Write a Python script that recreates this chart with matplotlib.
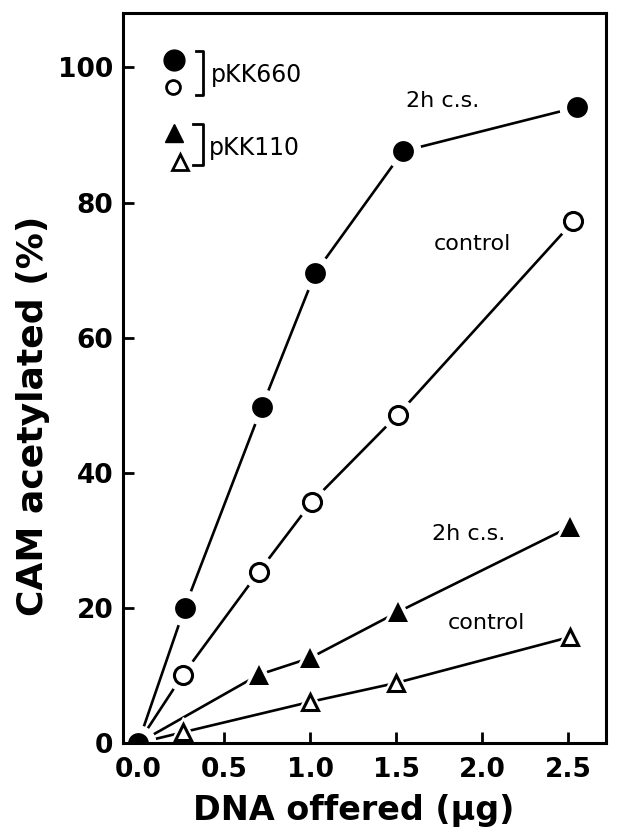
import numpy as np
import matplotlib.pyplot as plt

# values
x_660_cs = [0.0, 0.27, 0.72, 1.03, 1.54, 2.55]
y_660_cs = [0.0, 20.0, 49.8, 69.6, 87.6, 94.1]
x_660_ctl = [0.26, 0.70, 1.01, 1.51, 2.53]
y_660_ctl = [10.1, 25.3, 35.7, 48.6, 77.2]
x_110_cs = [0.70, 1.00, 1.51, 2.51]
y_110_cs = [10.1, 12.6, 19.4, 32.0]
x_110_ctl = [0.26, 1.00, 1.50, 2.51]
y_110_ctl = [1.6, 6.1, 8.9, 15.7]

x_ticks = [0.0, 0.5, 1.0, 1.5, 2.0, 2.5]
y_ticks = [0, 20, 40, 60, 80, 100]

fig = plt.figure(figsize=(6.19, 8.34), dpi=100)
ax = fig.add_axes([0.199, 0.109, 0.780, 0.875])

lw = 1.9
series = [
    (x_660_cs, y_660_cs, 'o', 'k', 15, 0),
    (x_660_ctl, y_660_ctl, 'o', 'white', 13, 2.2),
    (x_110_cs, y_110_cs, '^', 'k', 14, 0),
    (x_110_ctl, y_110_ctl, '^', 'white', 12, 2.2),
]
for xs, ys, mk, fc, ms, mew in series:
    # every curve starts from the origin
    xl = [0.0] + list(xs) if xs[0] != 0 else list(xs)
    yl = [0.0] + list(ys) if xs[0] != 0 else list(ys)
    ax.plot(xl, yl, '-', color='k', lw=lw, zorder=1)
    # white halo so the line stops short of each symbol
    ax.plot(xl, yl, ls='none', marker=mk, ms=ms + 10, mfc='white',
            mec='white', zorder=2)

for xs, ys, mk, fc, ms, mew in series:
    ax.plot(xs, ys, ls='none', marker=mk, ms=ms, mfc=fc, mec='k',
            mew=mew, zorder=3)

ax.set_xlim(-0.087, 2.72)
ax.set_ylim(0, 108)
ax.set_xticks(x_ticks)
ax.set_xticklabels(['%.1f' % v for v in x_ticks])
ax.set_yticks(y_ticks)
ax.tick_params(direction='in', length=8, width=2)
ax.tick_params(axis='x', pad=10, labelsize=19)
ax.tick_params(axis='y', pad=7, labelsize=19)
for lbl in ax.get_xticklabels() + ax.get_yticklabels():
    lbl.set_fontweight('bold')
for sp in ax.spines.values():
    sp.set_linewidth(2.2)
    sp.set_zorder(4)

ax.set_xlabel('DNA offered (µg)', fontsize=24, fontweight='bold',
              va='center')
ax.xaxis.set_label_coords(0.477, -0.092)
ax.set_ylabel('CAM acetylated (%)', fontsize=26, fontweight='bold',
              va='center')
ax.yaxis.set_label_coords(-0.1875, 0.449)

# curve labels
txt = dict(fontsize=16, color='k', va='center', ha='left')
ax.text(1.56, 95.0, '2h c.s.', **txt)
ax.text(1.72, 73.8, 'control', **txt)
ax.text(1.71, 31.0, '2h c.s.', **txt)
ax.text(1.80, 17.8, 'control', **txt)

# key drawn at top left
tr = ax.transAxes
ax.plot(0.106, 0.936, 'o', ms=15, mfc='k', mec='k', transform=tr)
ax.plot(0.104, 0.899, 'o', ms=10, mfc='white', mec='k', mew=2, transform=tr)
ax.plot(0.106, 0.836, '^', ms=13, mfc='k', mec='k', transform=tr)
ax.plot(0.117, 0.796, '^', ms=11, mfc='white', mec='k', mew=2, transform=tr)
ax.plot([0.150, 0.165, 0.165, 0.150], [0.949, 0.949, 0.888, 0.888],
        color='k', lw=2, transform=tr)
ax.plot([0.144, 0.165, 0.165, 0.144], [0.849, 0.849, 0.792, 0.792],
        color='k', lw=2, transform=tr)
ax.text(0.181, 0.915, 'pKK660', transform=tr, fontsize=17, color='k',
        va='center')
ax.text(0.177, 0.816, 'pKK110', transform=tr, fontsize=17, color='k',
        va='center')

plt.savefig('out.png', dpi=100)
